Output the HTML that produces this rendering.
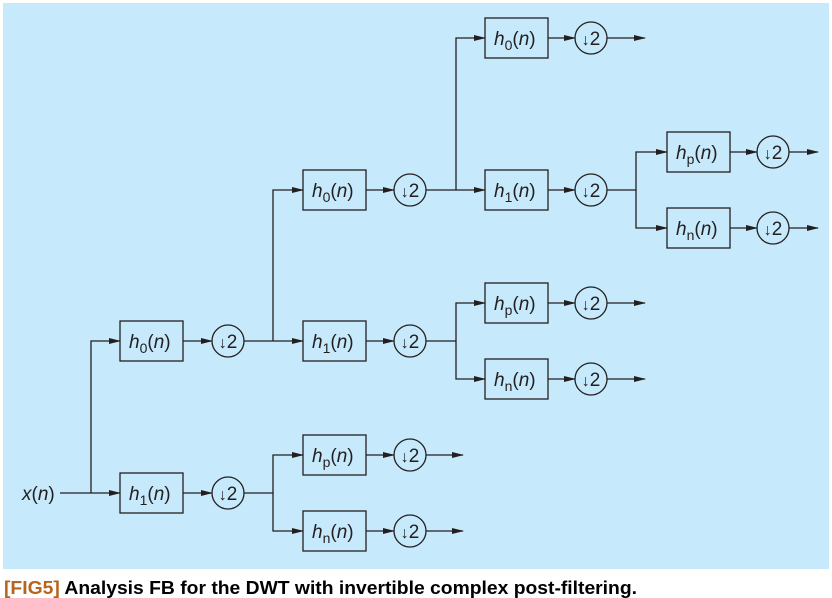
<!DOCTYPE html>
<html><head><meta charset="utf-8"><style>
html,body{margin:0;padding:0;background:#fff;}
svg{display:block;}
text{font-family:"Liberation Sans",sans-serif;fill:#231f20;}
</style></head><body>
<svg width="832" height="598" viewBox="0 0 832 598" xmlns="http://www.w3.org/2000/svg">
<defs>
<marker id="a" markerWidth="12" markerHeight="8" refX="11" refY="4" orient="auto" markerUnits="userSpaceOnUse">
<path d="M0,1 L12,4 L0,7 Z" fill="#231f20"/>
</marker>
</defs>
<rect x="3" y="3" width="826" height="566" fill="#c6e9fb"/>
<g stroke="#231f20" stroke-width="1.3" fill="none">
<line x1="60" y1="493" x2="120" y2="493" marker-end="url(#a)"/>
<polyline points="91,493 91,341 120,341" marker-end="url(#a)"/>
<line x1="244" y1="341" x2="303" y2="341" marker-end="url(#a)"/>
<polyline points="273,341 273,190 303,190" marker-end="url(#a)"/>
<polyline points="244,493 273,493 273,455 303,455" marker-end="url(#a)"/>
<polyline points="273,493 273,531 303,531" marker-end="url(#a)"/>
<line x1="426" y1="190" x2="485" y2="190" marker-end="url(#a)"/>
<polyline points="456,190 456,38 485,38" marker-end="url(#a)"/>
<polyline points="426,341 456,341 456,303 485,303" marker-end="url(#a)"/>
<polyline points="456,341 456,379 485,379" marker-end="url(#a)"/>
<line x1="426" y1="455" x2="463" y2="455" marker-end="url(#a)"/>
<line x1="426" y1="531" x2="463" y2="531" marker-end="url(#a)"/>
<line x1="607" y1="38" x2="645" y2="38" marker-end="url(#a)"/>
<polyline points="607,190 636,190 636,152 667,152" marker-end="url(#a)"/>
<polyline points="636,190 636,228 667,228" marker-end="url(#a)"/>
<line x1="607" y1="303" x2="645" y2="303" marker-end="url(#a)"/>
<line x1="607" y1="379" x2="645" y2="379" marker-end="url(#a)"/>
<line x1="789" y1="152" x2="818" y2="152" marker-end="url(#a)"/>
<line x1="789" y1="228" x2="818" y2="228" marker-end="url(#a)"/>
<line x1="183" y1="341" x2="212" y2="341" marker-end="url(#a)"/>
<line x1="183" y1="493" x2="212" y2="493" marker-end="url(#a)"/>
<line x1="366" y1="190" x2="394" y2="190" marker-end="url(#a)"/>
<line x1="366" y1="341" x2="394" y2="341" marker-end="url(#a)"/>
<line x1="366" y1="455" x2="394" y2="455" marker-end="url(#a)"/>
<line x1="366" y1="531" x2="394" y2="531" marker-end="url(#a)"/>
<line x1="548" y1="38" x2="575" y2="38" marker-end="url(#a)"/>
<line x1="548" y1="190" x2="575" y2="190" marker-end="url(#a)"/>
<line x1="548" y1="303" x2="575" y2="303" marker-end="url(#a)"/>
<line x1="548" y1="379" x2="575" y2="379" marker-end="url(#a)"/>
<line x1="730" y1="152" x2="757" y2="152" marker-end="url(#a)"/>
<line x1="730" y1="228" x2="757" y2="228" marker-end="url(#a)"/>
<rect x="120" y="321" width="63" height="40"/>
<rect x="120" y="473" width="63" height="40"/>
<rect x="303" y="170" width="63" height="40"/>
<rect x="303" y="321" width="63" height="40"/>
<rect x="303" y="435" width="63" height="40"/>
<rect x="303" y="511" width="63" height="40"/>
<rect x="485" y="18" width="63" height="40"/>
<rect x="485" y="170" width="63" height="40"/>
<rect x="485" y="283" width="63" height="40"/>
<rect x="485" y="359" width="63" height="40"/>
<rect x="667" y="132" width="63" height="40"/>
<rect x="667" y="208" width="63" height="40"/>
<circle cx="228" cy="341" r="16"/>
<circle cx="228" cy="493" r="16"/>
<circle cx="410" cy="190" r="16"/>
<circle cx="410" cy="341" r="16"/>
<circle cx="410" cy="455" r="16"/>
<circle cx="410" cy="531" r="16"/>
<circle cx="591" cy="38" r="16"/>
<circle cx="591" cy="190" r="16"/>
<circle cx="591" cy="303" r="16"/>
<circle cx="591" cy="379" r="16"/>
<circle cx="773" cy="152" r="16"/>
<circle cx="773" cy="228" r="16"/>
</g>
<g font-size="19">
<text x="22" y="500"><tspan font-style="italic">x</tspan>(<tspan font-style="italic">n</tspan>)</text>
<text x="129" y="348"><tspan font-style="italic">h</tspan><tspan font-size="14" dy="5">0</tspan><tspan dy="-5">(</tspan><tspan font-style="italic">n</tspan>)</text>
<text x="129" y="500"><tspan font-style="italic">h</tspan><tspan font-size="14" dy="5">1</tspan><tspan dy="-5">(</tspan><tspan font-style="italic">n</tspan>)</text>
<text x="312" y="197"><tspan font-style="italic">h</tspan><tspan font-size="14" dy="5">0</tspan><tspan dy="-5">(</tspan><tspan font-style="italic">n</tspan>)</text>
<text x="312" y="348"><tspan font-style="italic">h</tspan><tspan font-size="14" dy="5">1</tspan><tspan dy="-5">(</tspan><tspan font-style="italic">n</tspan>)</text>
<text x="312" y="462"><tspan font-style="italic">h</tspan><tspan font-size="14" dy="5">p</tspan><tspan dy="-5">(</tspan><tspan font-style="italic">n</tspan>)</text>
<text x="312" y="538"><tspan font-style="italic">h</tspan><tspan font-size="14" dy="5">n</tspan><tspan dy="-5">(</tspan><tspan font-style="italic">n</tspan>)</text>
<text x="494" y="45"><tspan font-style="italic">h</tspan><tspan font-size="14" dy="5">0</tspan><tspan dy="-5">(</tspan><tspan font-style="italic">n</tspan>)</text>
<text x="494" y="197"><tspan font-style="italic">h</tspan><tspan font-size="14" dy="5">1</tspan><tspan dy="-5">(</tspan><tspan font-style="italic">n</tspan>)</text>
<text x="494" y="310"><tspan font-style="italic">h</tspan><tspan font-size="14" dy="5">p</tspan><tspan dy="-5">(</tspan><tspan font-style="italic">n</tspan>)</text>
<text x="494" y="386"><tspan font-style="italic">h</tspan><tspan font-size="14" dy="5">n</tspan><tspan dy="-5">(</tspan><tspan font-style="italic">n</tspan>)</text>
<text x="676" y="159"><tspan font-style="italic">h</tspan><tspan font-size="14" dy="5">p</tspan><tspan dy="-5">(</tspan><tspan font-style="italic">n</tspan>)</text>
<text x="676" y="235"><tspan font-style="italic">h</tspan><tspan font-size="14" dy="5">n</tspan><tspan dy="-5">(</tspan><tspan font-style="italic">n</tspan>)</text>
</g>
<g font-size="19" text-anchor="middle">
<text x="228" y="348"><tspan font-size="16">↓</tspan>2</text>
<text x="228" y="500"><tspan font-size="16">↓</tspan>2</text>
<text x="410" y="197"><tspan font-size="16">↓</tspan>2</text>
<text x="410" y="348"><tspan font-size="16">↓</tspan>2</text>
<text x="410" y="462"><tspan font-size="16">↓</tspan>2</text>
<text x="410" y="538"><tspan font-size="16">↓</tspan>2</text>
<text x="591" y="45"><tspan font-size="16">↓</tspan>2</text>
<text x="591" y="197"><tspan font-size="16">↓</tspan>2</text>
<text x="591" y="310"><tspan font-size="16">↓</tspan>2</text>
<text x="591" y="386"><tspan font-size="16">↓</tspan>2</text>
<text x="773" y="159"><tspan font-size="16">↓</tspan>2</text>
<text x="773" y="235"><tspan font-size="16">↓</tspan>2</text>
</g>
<text x="4" y="594" font-size="18" font-weight="bold" textLength="633" lengthAdjust="spacingAndGlyphs"><tspan fill="#b5651d">[FIG5]</tspan><tspan fill="#000">  Analysis FB for the DWT with invertible complex post-filtering.</tspan></text>
</svg>
</body></html>
